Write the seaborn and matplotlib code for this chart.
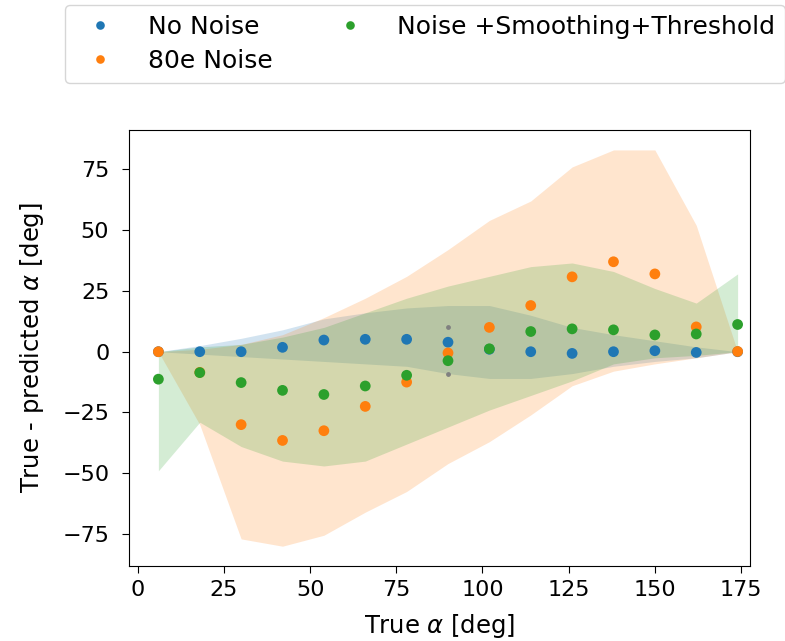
import matplotlib
matplotlib.use("Agg")
import numpy as np
import pandas as pd
import matplotlib.pyplot as plt
import seaborn as sns

# true angle (deg)
alpha = [6, 18, 30, 42, 54, 66, 78, 90, 102, 114, 126, 138, 150, 162, 174]

# mean residual per series
no_noise = [0.0, 0.0, 0.0, 1.8, 4.8, 5.1, 5.1, 3.9, 1.0, 0.0, -0.7, 0.0, 0.4, -0.3, 0.0]
noise_80e = [0.0, -8.5, -30.0, -36.5, -32.5, -22.5, -12.5, -0.5, 10.0, 19.0, 30.8, 37.0, 32.0, 10.2, 0.1]
noise_smooth = [-11.3, -8.6, -12.7, -15.9, -17.6, -14.1, -9.7, -3.7, 1.2, 8.3, 9.4, 9.0, 6.9, 7.3, 11.2]

# spread bands (lower, upper)
no_noise_lo = [0, -1, -2, -3, -4, -5, -6, -9, -11, -11, -9, -6, -4, -2.5, 0]
no_noise_hi = [0, 2.5, 5.5, 9, 13.5, 16, 18, 19, 19, 15, 10, 7, 4.5, 2, 0]
noise_80e_lo = [0, -30, -77, -80, -75.5, -66, -57.5, -46, -37, -26, -14, -8, -5, -2.5, 0]
noise_80e_hi = [0, 1, 3, 7, 14, 22, 31, 42, 54, 62, 76, 83, 83, 52, 0]
noise_smooth_lo = [-49, -29, -39, -45, -47, -45, -38, -31, -24, -18, -12, -5, -2.5, -1.5, 0]
noise_smooth_hi = [0, 2, 3, 6, 10, 16, 22, 27, 31, 35, 36.5, 33, 26, 20, 32]

# outlier markers at 90 deg
outlier_x = [90, 90]
outlier_y = [10, -9]

labels = ["No Noise", "80e Noise", "Noise +Smoothing+Threshold"]
colors = ["#1f77b4", "#ff7f0e", "#2ca02c"]

df = pd.concat([
    pd.DataFrame({"alpha": alpha, "diff": no_noise, "run": labels[0]}),
    pd.DataFrame({"alpha": alpha, "diff": noise_80e, "run": labels[1]}),
    pd.DataFrame({"alpha": alpha, "diff": noise_smooth, "run": labels[2]}),
])

plt.rcParams["font.size"] = 16

fig, ax = plt.subplots(figsize=(7.85, 6.41), dpi=100)
plt.subplots_adjust(left=0.164, right=0.955, bottom=0.117, top=0.797)

bands = [(no_noise_lo, no_noise_hi), (noise_80e_lo, noise_80e_hi), (noise_smooth_lo, noise_smooth_hi)]
for (lo, hi), c in zip(bands, colors):
    ax.fill_between(alpha, lo, hi, color=c, alpha=0.2, linewidth=0)

sns.scatterplot(data=df, x="alpha", y="diff", hue="run", palette=colors,
                s=60, linewidth=0, ax=ax, zorder=3)
ax.scatter(outlier_x, outlier_y, s=6, color="grey", zorder=3)

ax.set_xlim(-2.6, 177.5)
ax.set_xticks([0, 25, 50, 75, 100, 125, 150, 175])
ax.set_yticks([-75, -50, -25, 0, 25, 50, 75])
ax.tick_params(labelsize=16, length=5)
ax.tick_params(axis="x", pad=5)
ax.tick_params(axis="y", pad=9)
ax.set_xlabel(r"True $\alpha$ [deg]", fontsize=17.5, labelpad=9)
ax.set_ylabel(r"True - predicted $\alpha$ [deg]", fontsize=17.5, labelpad=12)

handles, _ = ax.get_legend_handles_labels()
ax.get_legend().remove()
fig.legend(handles, labels, ncol=2, loc="upper left",
           bbox_to_anchor=(65 / 785, 1 - 5 / 641), borderaxespad=0,
           fontsize=18, markerscale=0.8,
           handletextpad=0.9, columnspacing=2.1, labelspacing=0.4)

plt.savefig("out.png", dpi=100)
